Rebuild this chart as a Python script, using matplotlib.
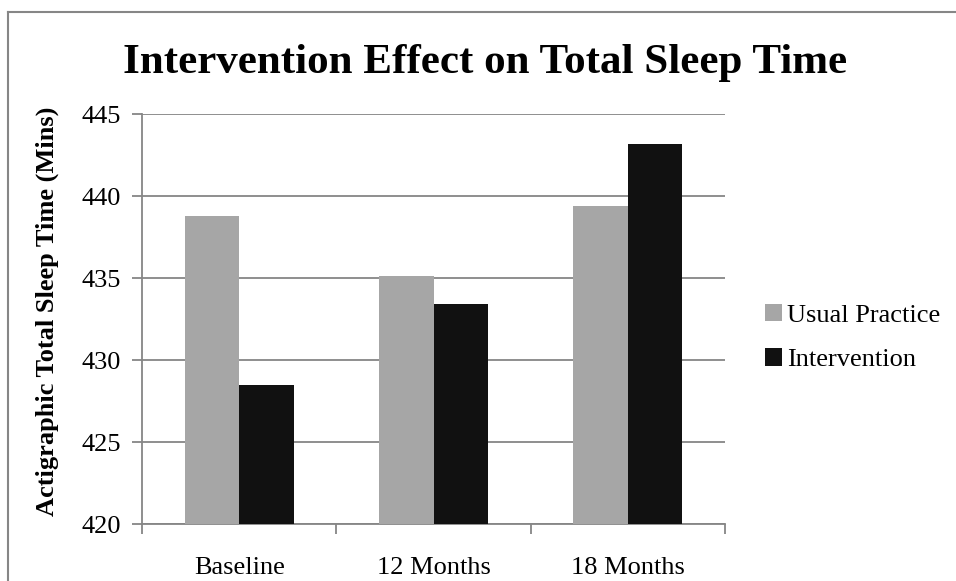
import numpy as np
import matplotlib
matplotlib.use("Agg")
from matplotlib import pyplot as plt
from matplotlib.lines import Line2D

# datos
categories = ["Baseline", "12 Months", "18 Months"]
usual = [438.8, 435.1, 439.4]
intervention = [428.5, 433.4, 443.2]
series_names = ["Usual Practice", "Intervention"]
yticks = [420, 425, 430, 435, 440, 445]

plt.rcParams['font.family'] = ['Liberation Serif', 'DejaVu Serif']

fig = plt.figure(figsize=(9.56, 5.81), dpi=100)
ax = fig.add_axes([142/956, 1-524/581, (725-142)/956, (524-114)/581])

x = np.arange(len(categories))
w = 0.28
ax.bar(x - w/2, usual, w, color="#A6A6A6", label=series_names[0], zorder=3)
ax.bar(x + w/2, intervention, w, color="#111111", label=series_names[1], zorder=3)

ax.set_ylim(420, 445)
ax.set_xlim(-0.5, 2.5)
ax.set_yticks(yticks)
ax.set_yticklabels([str(v) for v in yticks], fontsize=19)
ax.yaxis.grid(True, color="#868686", linewidth=1.3, zorder=0)

# ticks del eje x en los limites de categoria
ax.set_xticks([-0.5, 0.5, 1.5, 2.5])
ax.set_xticklabels([])
ax.set_xticks(x, minor=True)
ax.set_xticklabels(categories, minor=True, fontsize=19)
ax.tick_params(axis="x", which="minor", length=0, pad=24)
ax.tick_params(axis="x", which="major", length=7, color="#868686", width=1.3)
ax.tick_params(axis="y", length=7, color="#868686", width=1.3, pad=8)

for s in ["top", "right"]:
    ax.spines[s].set_visible(False)
for s in ["left", "bottom"]:
    ax.spines[s].set_color("#868686")
    ax.spines[s].set_linewidth(1.3)

ax.set_ylabel("Actigraphic Total Sleep Time (Mins)", fontsize=19, fontweight="bold")
ax.yaxis.set_label_coords(-0.142, 0.518)

fig.suptitle("Intervention Effect on Total Sleep Time", fontsize=31, fontweight="bold",
             x=0.507, y=0.925, va="top")

leg = ax.legend(loc="center left", bbox_to_anchor=(1.05, 0.455), frameon=False, fontsize=19,
                handlelength=0.65, handleheight=0.65, handletextpad=0.2, labelspacing=0.8,
                borderaxespad=0)

# borde exterior del grafico (solo arriba e izquierda visibles)
fig.add_artist(Line2D([7.5/956, 7.5/956], [0, 1-11.5/581], transform=fig.transFigure,
                      color="#868686", linewidth=1.5))
fig.add_artist(Line2D([7.5/956, 955/956], [1-11.5/581, 1-11.5/581], transform=fig.transFigure,
                      color="#868686", linewidth=1.5))

fig.savefig("out.png", dpi=100)
